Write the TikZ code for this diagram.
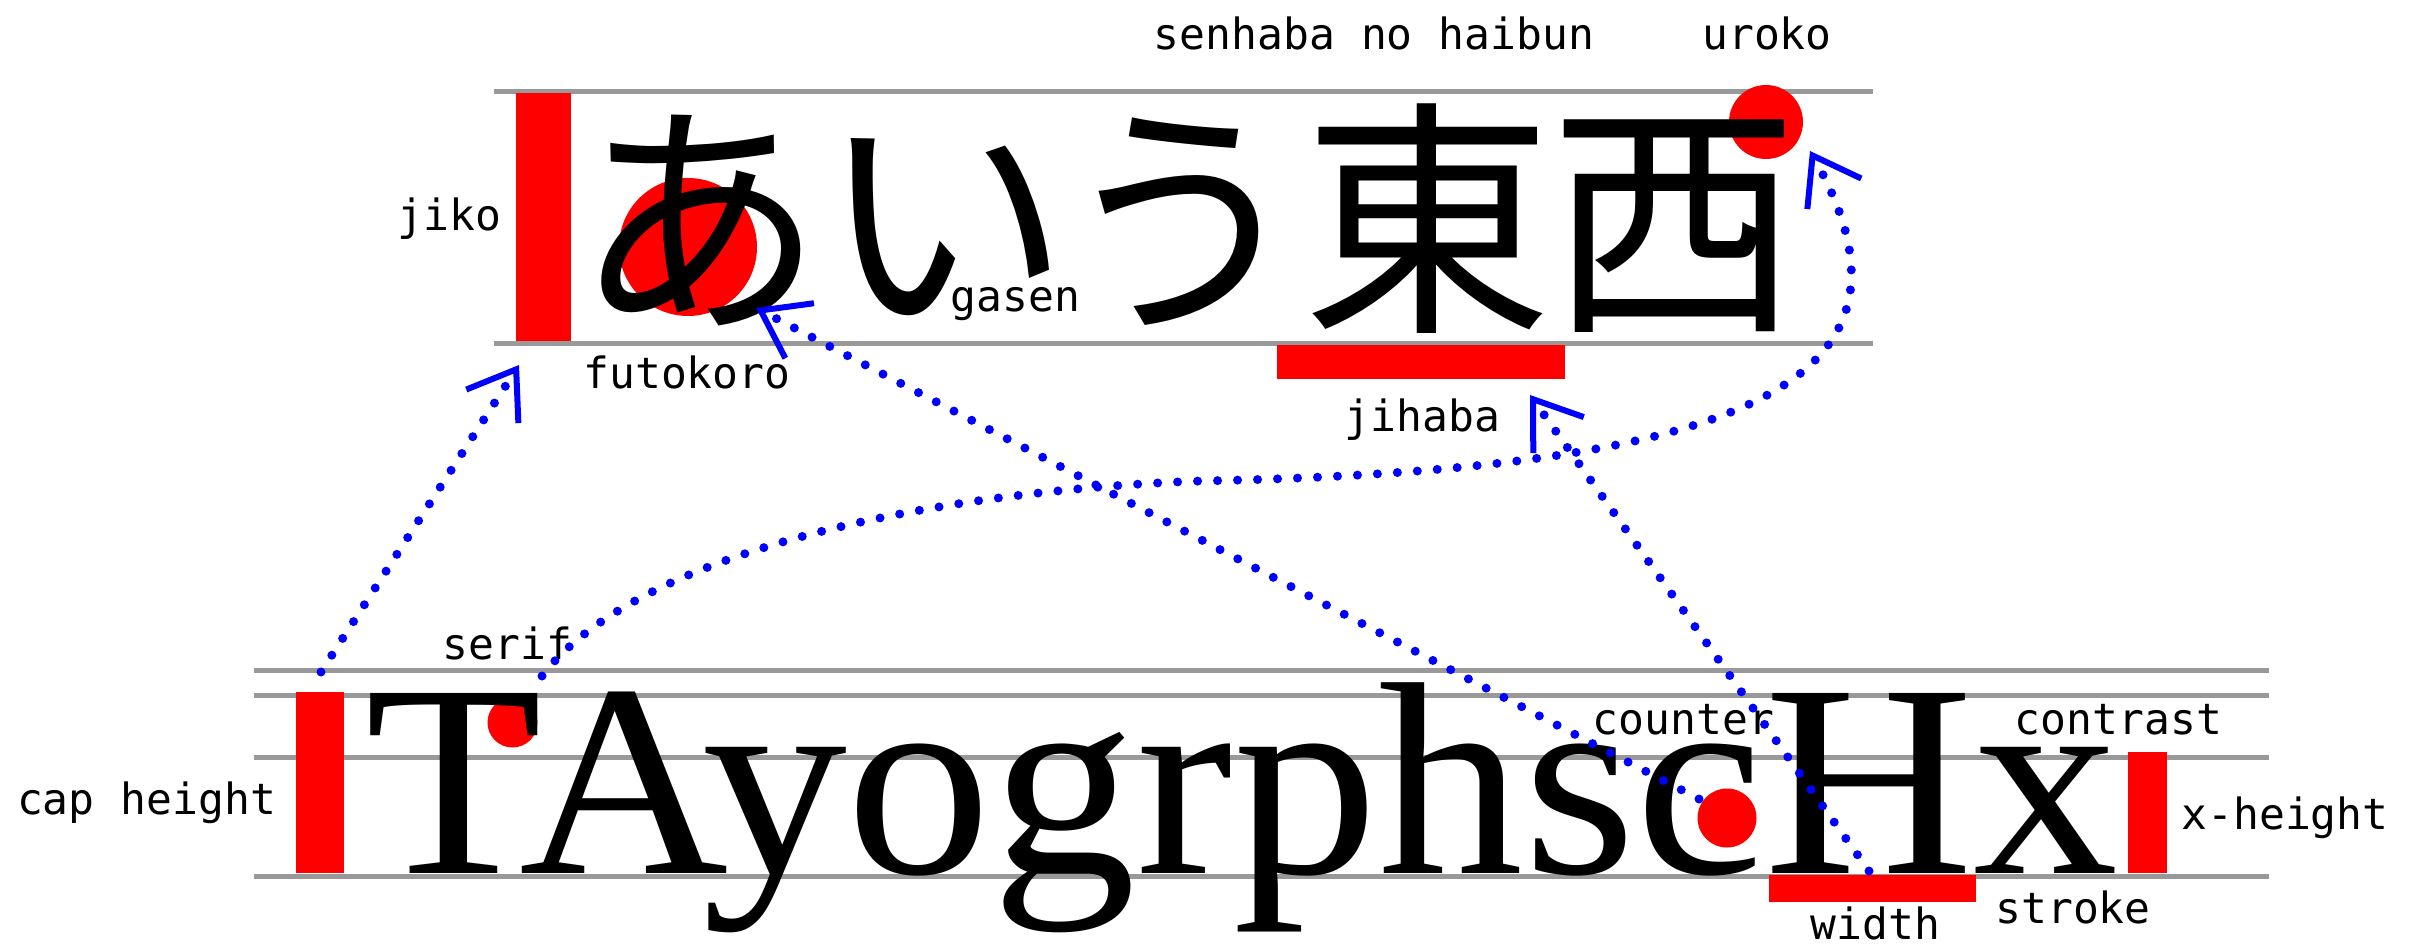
\documentclass[tikz,border=0pt]{standalone}
\usepackage{fontspec}
\setmainfont{Liberation Serif}
\newfontfamily\jpfont{Noto Sans CJK JP}
\newfontfamily\labfont{DejaVu Sans Mono}
\usetikzlibrary{arrows.meta}
\definecolor{guide}{HTML}{999999}
\definecolor{mark}{HTML}{FF0000}
\definecolor{conn}{HTML}{0000FF}
\begin{document}
\begin{tikzpicture}[x=1pt,y=-1pt,
  gline/.style={draw=guide, line width=5pt},
  redmark/.style={fill=mark},
  lbl/.style={font=\labfont\fontsize{43}{43}\selectfont, anchor=base, inner sep=0pt},
  jpglyph/.style={font=\jpfont\fontsize{250}{250}\selectfont, anchor=base, inner sep=0pt},
  bigword/.style={font=\fontsize{275}{275}\selectfont, anchor=base west, inner sep=0pt},
  dotarrow/.style={draw=conn, line width=9pt, line cap=round, dash pattern=on 0pt off 20pt,
    -{Straight Barb[length=44pt, width=62pt, line width=6pt]}}]
\useasboundingbox[fill=white] (0,0) rectangle (2421,946);
% guide lines
\draw[gline] (494,91) -- (1873,91);
\draw[gline] (494,343) -- (1873,343);
\draw[gline] (254,670) -- (2269,670);
\draw[gline] (254,695) -- (2269,695);
\draw[gline] (254,757) -- (2269,757);
\draw[gline] (254,876) -- (2269,876);
% red marks
\fill[redmark] (516,93) rectangle (571,341);
\fill[redmark] (1277,345) rectangle (1565,379);
\fill[redmark] (296,692) rectangle (344,873);
\fill[redmark] (2128,752) rectangle (2167,873);
\fill[redmark] (1769,875) rectangle (1976,902);
\fill[redmark] (688,247) circle[radius=69];
\fill[redmark] (1766,122) circle[radius=37];
\fill[redmark] (512.5,722.5) circle[radius=25];
\fill[redmark] (1727,818) circle[radius=29.5];
% glyphs
\node[jpglyph] (ja) at (699,313) {あ};
\node[jpglyph] (ji) at (944,313) {い};
\node[jpglyph] (ju) at (1182,313) {う};
\node[jpglyph] (jhig) at (1427,313) {東};
\node[jpglyph] (jnis) at (1674,313) {西};
\node[bigword] (word) at (365,873) {\scalebox{1.054}[1]{TAyogrphscHx}};
% labels
\node[lbl] (senhaba) at (1374,49) {senhaba no haibun};
\node[lbl] (uroko) at (1767,49) {uroko};
\node[lbl] (jiko) at (449.5,230) {jiko};
\node[lbl] (gasen) at (1015.5,311) {gasen};
\node[lbl] (futokoro) at (687,388) {futokoro};
\node[lbl] (jihaba) at (1422.5,431) {jihaba};
\node[lbl] (serif) at (507.5,659) {serif};
\node[lbl] (caph) at (146.5,814) {cap height};
\node[lbl] (counter) at (1683.5,734) {counter};
\node[lbl] (contrast) at (2118.5,734) {contrast};
\node[lbl] (xheight) at (2285,829) {x-height};
\node[lbl] (stroke) at (2073,923) {stroke};
\node[lbl] (width) at (1875.5,939) {width};
% connector ends
\coordinate (capStart) at (321,672);
\coordinate (jikoTip) at (519,365);
\coordinate (serifStart) at (542,676);
\coordinate (serifMid) at (1200,481);
\coordinate (urokoTip) at (1810,151);
\coordinate (counterStart) at (1699,799);
\coordinate (futoTip) at (756,308);
\coordinate (widthStart) at (1869,871);
\coordinate (jihabaTip) at (1530,395);
% connectors
\draw[dotarrow] (capStart) -- (jikoTip);
\draw[dotarrow] (serifStart) .. controls (642,546) and (950,490) .. (serifMid)
  .. controls (1750,470) and (1940,380) .. (urokoTip);
\draw[dotarrow] (counterStart) -- (futoTip);
\draw[dotarrow] (widthStart) -- (jihabaTip);
\end{tikzpicture}
\end{document}
